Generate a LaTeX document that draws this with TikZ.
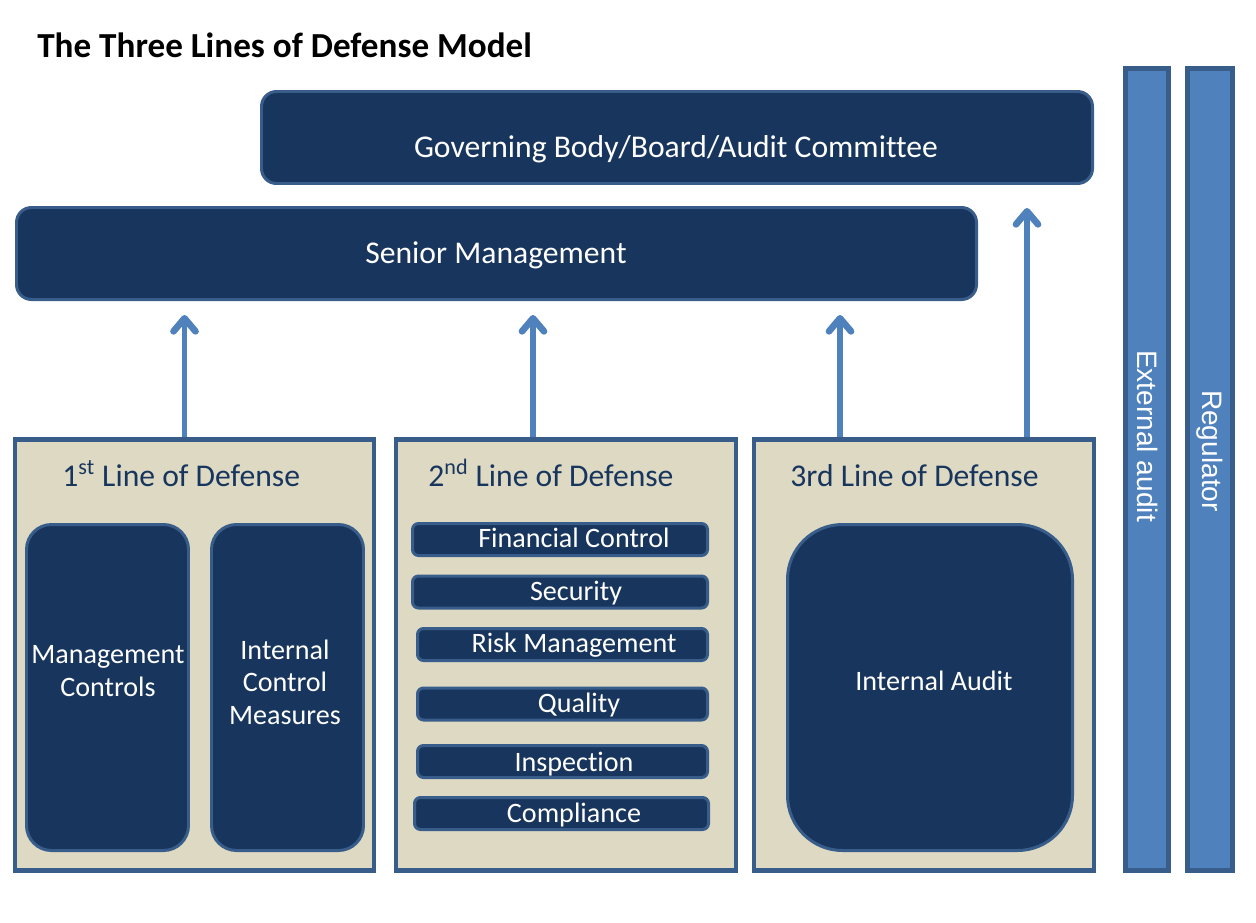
\documentclass[tikz,border=0pt]{standalone}
\usepackage{fontspec}
\setmainfont{Carlito}[Ligatures=NoCommon]
\newfontfamily\arialfont{Liberation Sans}
\usetikzlibrary{arrows.meta, positioning, calc}
\definecolor{navy}{RGB}{24,54,93}
\definecolor{edge}{RGB}{56,93,138}
\definecolor{sand}{RGB}{221,217,195}
\definecolor{steel}{RGB}{79,129,189}

\begin{document}
\begin{tikzpicture}[
  darkbox/.style={draw=edge, fill=navy, line width=1.7pt, rounded corners=0.3cm},
  bar/.style={darkbox, rounded corners=0.12cm, minimum height=0.64cm},
  linebox/.style={draw=edge, fill=sand, line width=2.3pt, minimum width=6.8cm, minimum height=8.62cm},
  sidebar/.style={draw=edge, fill=steel, line width=2.3pt, minimum width=0.86cm, minimum height=16.04cm},
  lbl/.style={text=white, font=\fontsize{16}{18.5}\selectfont, align=center, inner sep=0},
  biglbl/.style={lbl, font=\fontsize{18}{22}\selectfont},
  linetitle/.style={anchor=base west, inner sep=0, text=navy, font=\fontsize{18}{22}\selectfont},
  arr/.style={steel, line width=3pt, -{Straight Barb[length=0.26cm,width=0.44cm,round,line width=3.8pt]}}
]
  \useasboundingbox (0,0) rectangle (25.12,-18.44);

  % title
  \node[anchor=base west, inner sep=0, font=\fontsize{20}{24}\selectfont\bfseries] (title) at (0.74,-1.14) {The Three Lines of Defense Model};

  % top of the organisation
  \node[darkbox, minimum width=16.62cm, minimum height=1.84cm] (gov) at (13.54,-2.75) {};
  \node[biglbl] (govtxt) at (13.52,-2.98) {Governing Body/Board/Audit Committee};
  \node[darkbox, minimum width=19.2cm, minimum height=1.84cm] (senior) at (9.93,-5.07) {};
  \node[biglbl] (seniortxt) at (9.92,-5.1) {Senior Management};

  % external parties
  \node[sidebar] (ext) at (22.94,-9.39) {};
  \node[lbl, font=\arialfont\fontsize{16}{18}\selectfont, rotate=-90] (exttxt) at (22.96,-8.72) {External audit};
  \node[sidebar, minimum width=0.9cm] (reg) at (24.2,-9.39) {};
  \node[lbl, font=\arialfont\fontsize{16}{18}\selectfont, rotate=-90] (regtxt) at (24.2,-9.02) {Regulator};

  % 1st line
  \node[linebox, minimum width=7.18cm] (l1) at (3.89,-13.1) {};
  \node[linetitle] (l1title) at (1.24,-9.72) {1\textsuperscript{st} Line of Defense};
  \node[darkbox, rounded corners=0.5cm, minimum width=3.24cm, minimum height=6.52cm] (mc) at (2.15,-13.75) {};
  \node[lbl] (mctxt) at (2.16,-13.42) {Management\\Controls};
  \node[darkbox, rounded corners=0.5cm, minimum width=3.04cm, minimum height=6.52cm] (icm) at (5.75,-13.75) {};
  \node[lbl] (icmtxt) at (5.7,-13.64) {Internal\\Control\\Measures};

  % 2nd line
  \node[linebox] (l2) at (11.32,-13.1) {};
  \node[linetitle] (l2title) at (8.56,-9.72) {2\textsuperscript{nd} Line of Defense};
  \node[bar, minimum width=5.9cm] (fin) at (11.2,-10.79) {};
  \node[lbl] (fintxt) at (11.48,-10.76) {Financial Control};
  \node[bar, minimum width=5.9cm] (sec) at (11.2,-11.84) {};
  \node[lbl] (sectxt) at (11.52,-11.86) {Security};
  \node[bar, minimum width=5.8cm] (risk) at (11.25,-12.89) {};
  \node[lbl] (risktxt) at (11.48,-12.9) {Risk Management};
  \node[bar, minimum width=5.8cm] (qual) at (11.25,-14.08) {};
  \node[lbl] (qualtxt) at (11.58,-14.1) {Quality};
  \node[bar, minimum width=5.8cm] (insp) at (11.25,-15.23) {};
  \node[lbl] (insptxt) at (11.48,-15.28) {Inspection};
  \node[bar, minimum width=5.88cm] (comp) at (11.23,-16.27) {};
  \node[lbl] (comptxt) at (11.48,-16.3) {Compliance};

  % 3rd line
  \node[linebox] (l3) at (18.48,-13.1) {};
  \node[linetitle] (l3title) at (15.8,-9.72) {3rd Line of Defense};
  \node[darkbox, rounded corners=1.1cm, minimum width=5.7cm, minimum height=6.52cm] (ia) at (18.6,-13.75) {};
  \node[lbl] (iatxt) at (18.68,-13.62) {Internal Audit};

  % reporting arrows
  \draw[arr, shorten >=0.28cm] ([xshift=-0.2cm]l1.north) -- ([xshift=-0.2cm]l1.north |- senior.south);
  \draw[arr, shorten >=0.28cm] ([xshift=-0.66cm]l2.north) -- ([xshift=-0.66cm]l2.north |- senior.south);
  \draw[arr, shorten >=0.28cm] ([xshift=-1.68cm]l3.north) -- ([xshift=-1.68cm]l3.north |- senior.south);
  \draw[arr, shorten >=0.46cm] ([xshift=2.06cm]l3.north) -- ([xshift=2.06cm]l3.north |- gov.south);
\end{tikzpicture}
\end{document}
